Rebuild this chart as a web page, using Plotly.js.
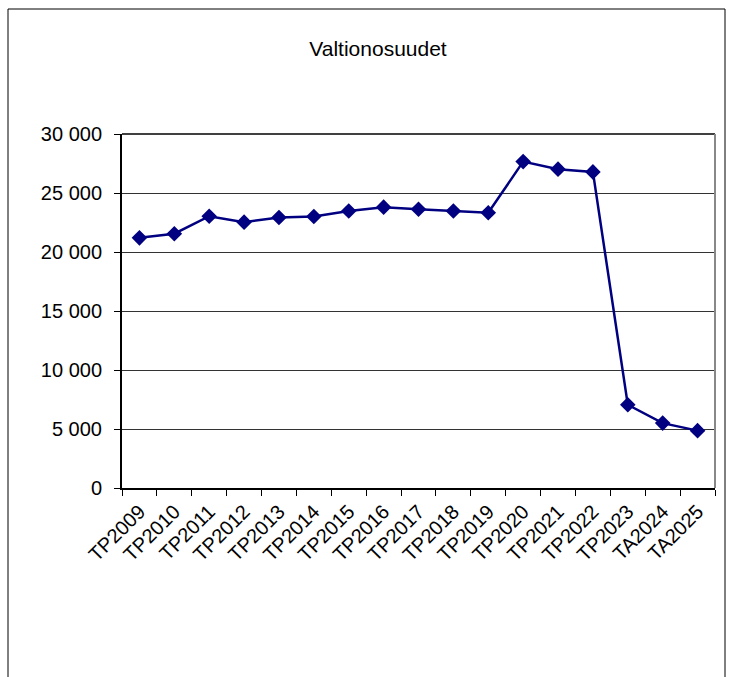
<!DOCTYPE html>
<html>
<head>
<meta charset="utf-8">
<script src="https://cdn.plot.ly/plotly-3.0.1.min.js"></script>
<style>html,body{margin:0;padding:0;background:#fff;}#chart{width:732px;height:677px;}</style>
</head>
<body>
<div id="chart"></div>
<script>
const categories = ["TP2009","TP2010","TP2011","TP2012","TP2013","TP2014","TP2015","TP2016","TP2017","TP2018","TP2019","TP2020","TP2021","TP2022","TP2023","TA2024","TA2025"];
const valtionosuudet = [21200, 21550, 23030, 22530, 22920, 23010, 23480, 23800, 23620, 23480, 23320, 27660, 27020, 26790, 7050, 5500, 4860];
const yTickVals = [0, 5000, 10000, 15000, 20000, 25000, 30000];
const yTickText = ["0", "5 000", "10 000", "15 000", "20 000", "25 000", "30 000"];
const chartTitle = "Valtionosuudet";

const trace = {
  x: categories,
  y: valtionosuudet,
  type: "scatter",
  mode: "lines+markers",
  line: {color: "#000080", width: 2.5},
  marker: {symbol: "diamond", size: 12, color: "#000080"},
  showlegend: false,
  hoverinfo: "x+y"
};

const layout = {
  width: 732, height: 677,
  margin: {l: 122, r: 17, t: 134, b: 189},
  paper_bgcolor: "#fff", plot_bgcolor: "#fff",
  font: {family: "Liberation Sans, Arial, sans-serif", color: "#000"},
  title: {text: chartTitle, font: {size: 21, color: "#000"}, x: 378/732, xanchor: "center", y: 1 - 49/677, yanchor: "middle"},
  xaxis: {
    type: "category", tickson: "boundaries", ticks: "outside", ticklen: 6, tickcolor: "#000",
    tickangle: -45, tickfont: {size: 20}, ticklabelstandoff: 2, showgrid: false, showline: true, linecolor: "#000", linewidth: 2,
    mirror: false, zeroline: false, range: [-0.5, 16.5], fixedrange: true
  },
  yaxis: {
    range: [0, 30000], tickvals: yTickVals, ticktext: yTickText, ticks: "outside", ticklen: 6, tickcolor: "#000",
    tickfont: {size: 20}, ticklabelstandoff: 8, showgrid: true, gridcolor: "#333", gridwidth: 1, showline: true, linecolor: "#000",
    linewidth: 2, zeroline: false, fixedrange: true
  },
  shapes: [
    {type: "line", xref: "paper", yref: "paper", x0: 0, x1: 1, y0: 1, y1: 1, line: {color: "#000", width: 1.5}},
    {type: "line", xref: "paper", yref: "paper", x0: 1, x1: 1, y0: 0, y1: 1, line: {color: "#888", width: 2}},
    {type: "rect", xref: "paper", yref: "paper", x0: (8-122)/593, x1: (725-122)/593, y0: -0.6, y1: (488-9)/354, line: {color: "#000", width: 1}, fillcolor: "rgba(0,0,0,0)", layer: "below"}
  ]
};

Plotly.newPlot("chart", [trace], layout, {displayModeBar: false, staticPlot: true});
</script>
</body>
</html>
